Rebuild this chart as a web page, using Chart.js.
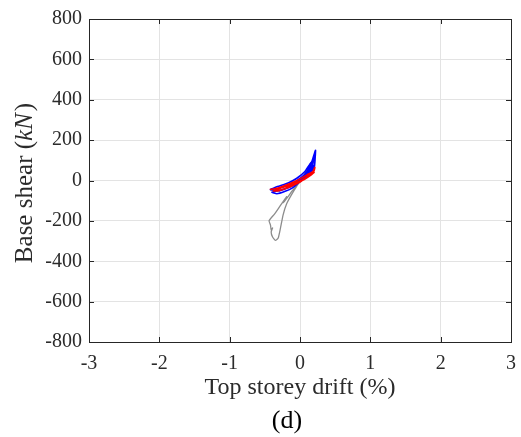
<!DOCTYPE html>
<html>
<head>
<meta charset="utf-8">
<script src="https://cdn.jsdelivr.net/npm/chart.js@4"></script>
<style>
  body { margin: 0; background: #fff; }
  #wrap { position: relative; width: 521px; height: 437px; }
  #cap { position: absolute; left: 237px; width: 100px; top: 405px; text-align: center;
         font: 26px "Liberation Serif", serif; color: #000; line-height: 30px; }
</style>
</head>
<body>
<div id="wrap">
  <canvas id="chart" width="521" height="437"></canvas>
  <div id="cap">(d)</div>
</div>
<script>
// axis ticks
const xTicks = [-3, -2, -1, 0, 1, 2, 3];
const yTicks = [-800, -600, -400, -200, 0, 200, 400, 600, 800];

// grey response (drift %, base shear kN)
const greyX = [0, 0.08, 0.15, 0.2, 0.17, 0.1, 0.03, -0.05, -0.12, -0.18, -0.24, -0.19, -0.22, -0.26, -0.31, -0.36, -0.41, -0.44, -0.42, -0.41, -0.39, -0.41, -0.39, -0.35, -0.31, -0.28, -0.24, -0.19, -0.12, -0.05, 0.03, 0.1, 0.17];
const greyY = [0, 30, 70, 110, 70, 35, 10, -25, -55, -85, -110, -80, -95, -115, -140, -165, -185, -200, -220, -245, -235, -255, -280, -297, -285, -240, -170, -115, -70, -30, 10, 55, 95];

// blue response
const blueX = [0, 0.1, 0.17, 0.22, 0.215, 0.2, 0.1, 0, -0.1, -0.2, -0.3, -0.4, -0.33, -0.22, -0.1, 0, 0.1, 0.18, 0.2, 0.17, 0.08, -0.02, -0.15, -0.27, -0.42, -0.32, -0.17, -0.05, 0.07, 0.16, 0.19, 0.13, 0.03, -0.1, -0.24, -0.3];
const blueY = [0, 45, 95, 150, 110, 60, 25, -5, -25, -40, -50, -58, -66, -55, -35, -5, 30, 80, 120, 75, 35, 5, -30, -48, -45, -30, -12, 10, 45, 90, 70, 40, 10, -22, -45, -52];

// red response
const redX = [-0.43, -0.3, -0.2, -0.1, 0, 0.1, 0.2, 0.21, 0.18, 0.1, 0, -0.1, -0.2, -0.3, -0.38, -0.28, -0.12, 0, 0.1, 0.2, 0.16, 0.06, -0.05, -0.18, -0.3, -0.36];
const redY = [-45, -36, -22, -8, 8, 28, 48, 65, 42, 18, -8, -25, -40, -50, -52, -38, -18, -2, 18, 40, 28, 5, -12, -28, -38, -42];

const pts = (xs, ys) => xs.map((x, i) => ({ x: x, y: ys[i] }));

const FONT = "'Liberation Serif', 'Times New Roman', serif";
const TXT = "#2b2b2b";

// box with inward tick marks on all four sides, plus the y title with italic kN
const boxPlugin = {
  id: "box",
  afterDatasetsDraw(chart) {
    const { ctx, chartArea: a, scales } = chart;
    ctx.save();
    ctx.strokeStyle = "#262626";
    ctx.lineWidth = 1;
    ctx.beginPath();
    const len = 5;
    xTicks.forEach(v => {
      const px = Math.round(scales.x.getPixelForValue(v)) + 0.5;
      ctx.moveTo(px, a.bottom); ctx.lineTo(px, a.bottom - len);
      ctx.moveTo(px, a.top); ctx.lineTo(px, a.top + len);
    });
    yTicks.forEach(v => {
      const py = Math.round(scales.y.getPixelForValue(v)) + 0.5;
      ctx.moveTo(a.left, py); ctx.lineTo(a.left + len, py);
      ctx.moveTo(a.right, py); ctx.lineTo(a.right - len, py);
    });
    ctx.stroke();
    ctx.strokeRect(Math.round(a.left) + 0.5, Math.round(a.top) + 0.5,
      Math.round(a.right - a.left), Math.round(a.bottom - a.top));

    // y axis title
    const parts = [["Base shear (", ""], ["kN", "italic "], [")", ""]];
    const size = 25;
    let total = 0;
    parts.forEach(p => { ctx.font = p[1] + size + "px " + FONT; total += ctx.measureText(p[0]).width + (p[1] ? 2 : 0); });
    ctx.translate(25, 183);
    ctx.rotate(-Math.PI / 2);
    ctx.fillStyle = TXT;
    ctx.textBaseline = "middle";
    let x = -total / 2;
    parts.forEach(p => {
      ctx.font = p[1] + size + "px " + FONT;
      ctx.fillText(p[0], x, 0);
      x += ctx.measureText(p[0]).width + (p[1] ? 2 : 0);
    });
    ctx.restore();
  }
};

new Chart(document.getElementById("chart"), {
  type: "scatter",
  data: {
    datasets: [
      { data: pts(redX, redY), borderColor: "#ff0000", borderWidth: 1.6 },
      { data: pts(blueX, blueY), borderColor: "#0000ff", borderWidth: 1.6 },
      { data: pts(greyX, greyY), borderColor: "#8c8c8c", borderWidth: 1.3 }
    ]
  },
  options: {
    responsive: false,
    animation: false,
    showLine: true,
    elements: { point: { radius: 0 }, line: { tension: 0.15 } },
    layout: { padding: { top: 17, right: 10, bottom: 0, left: 0 } },
    plugins: { legend: { display: false }, tooltip: { enabled: false } },
    scales: {
      x: {
        min: -3, max: 3,
        afterBuildTicks: s => { s.ticks = xTicks.map(v => ({ value: v })); },
        afterFit: s => { s.height = 95; s.paddingRight = 0; },
        grid: { color: "#e3e3e3", drawTicks: false },
        border: { display: false },
        ticks: { color: TXT, padding: 10, font: { family: FONT, size: 20 } },
        title: { display: true, text: "Top storey drift (%)", color: TXT,
                 padding: { top: 0, bottom: 35 }, font: { family: FONT, size: 24 } }
      },
      y: {
        min: -800, max: 800,
        afterBuildTicks: s => { s.ticks = yTicks.map(v => ({ value: v })); },
        afterFit: s => { s.width = 89; },
        grid: { color: "#e3e3e3", drawTicks: false },
        border: { display: false },
        ticks: { color: TXT, padding: 7, font: { family: FONT, size: 20 } }
      }
    }
  },
  plugins: [boxPlugin]
});
</script>
</body>
</html>
